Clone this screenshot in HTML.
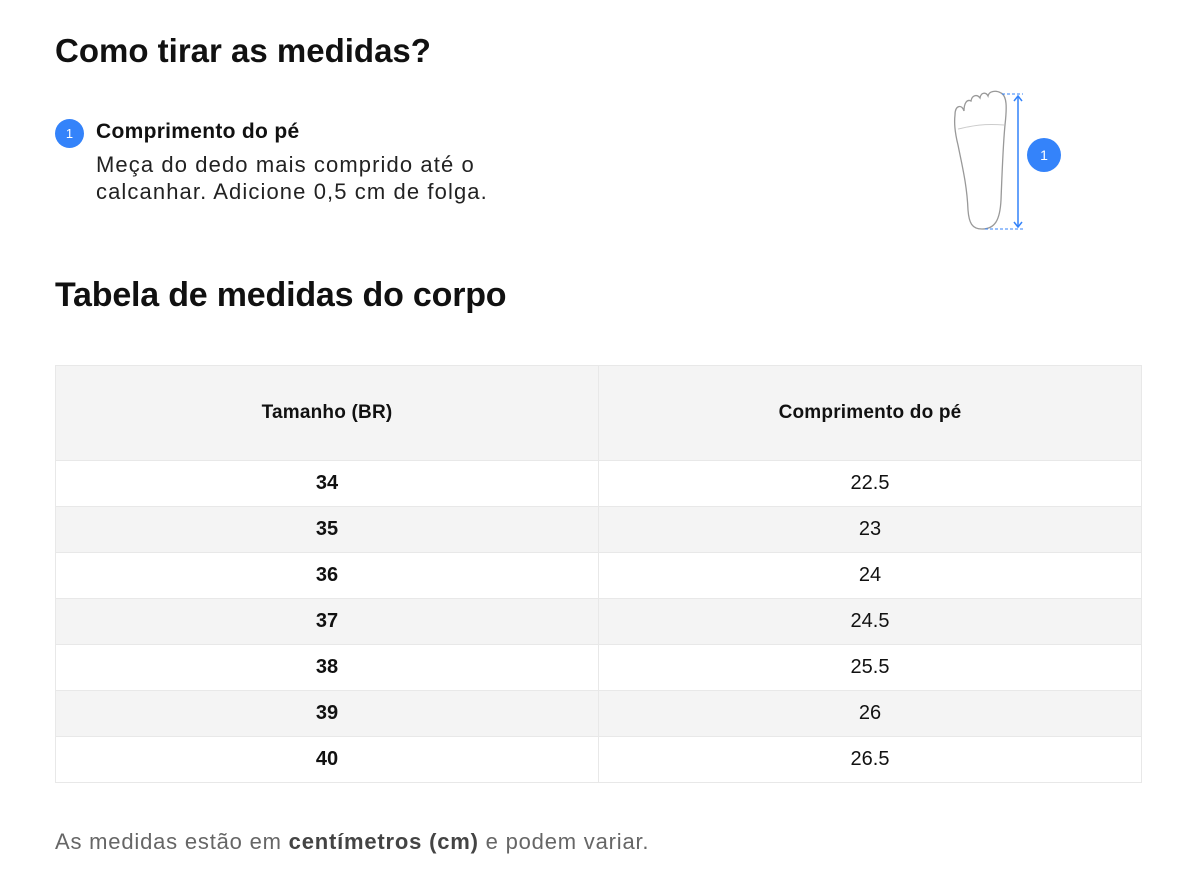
<!DOCTYPE html>
<html><head><style>
body{margin:0;width:1197px;height:895px;background:#fff;font-family:"Liberation Sans",sans-serif;color:#111;position:relative;overflow:hidden}
.a{position:absolute;white-space:nowrap}
table{position:absolute;left:55px;top:365px;width:1087px;border-collapse:collapse}
td{border:1px solid #e8e8e8;text-align:center;font-size:20px;height:45px;padding:0}
tr.h td{height:94px;background:#f4f4f4;font-weight:bold;font-size:19px;letter-spacing:0.2px}
tr.g td{background:#f4f4f4}
td.l{font-weight:bold;width:542px}
</style></head><body>
<div class="a" style="left:55px;top:32px;font-size:33px;font-weight:bold;letter-spacing:0px">Como tirar as medidas?</div>
<div class="a" style="left:55px;top:119px;width:29px;height:29px;border-radius:50%;background:#3483fa;color:#fff;font-size:13px;line-height:29px;text-align:center">1</div>
<div class="a" style="left:96px;top:120px;font-size:21px;font-weight:bold;letter-spacing:0.3px">Comprimento do pé</div>
<div class="a" style="left:96px;top:151px;font-size:22px;line-height:27px;color:#222;letter-spacing:1.1px">Meça do dedo mais comprido até o<br>calcanhar. Adicione 0,5 cm de folga.</div>
<svg class="a" style="left:940px;top:85px" width="130" height="155">
<path d="M42 144 C32 144 29 138 28 125 C27 100 22 80 18 60 C15 48 14 38 15 30 C15 20 22 19 24 26 C24 18 27 14 31 16 C32 10 37 9 40 13 C41 7 46 7 48 11 C49 6 56 5 61 8 C67 11 67 22 65 40 C63 60 62 90 61 115 C60 135 55 144 42 144Z" fill="none" stroke="#999" stroke-width="1.3"/>
<path d="M18 44 C28 42 40 38 64 40" fill="none" stroke="#ccc" stroke-width="1"/>
<line x1="62" y1="9" x2="83" y2="9" stroke="#3483fa" stroke-dasharray="3,2"/>
<line x1="45" y1="144" x2="83" y2="144" stroke="#3483fa" stroke-dasharray="3,2"/>
<line x1="78" y1="11" x2="78" y2="142" stroke="#3483fa" stroke-width="1.5"/>
<path d="M74 16 L78 11 L82 16 M74 137 L78 142 L82 137" fill="none" stroke="#3483fa" stroke-width="1.5"/>
<circle cx="104" cy="70" r="17" fill="#3483fa"/>
<text x="104" y="75" fill="#fff" font-size="14" text-anchor="middle" font-family="Liberation Sans">1</text>
</svg>
<div class="a" style="left:55px;top:276px;font-size:34px;font-weight:bold;letter-spacing:-0.2px">Tabela de medidas do corpo</div>
<table>
<tr class="h"><td class="l">Tamanho (BR)</td><td>Comprimento do pé</td></tr>
<tr><td class="l">34</td><td>22.5</td></tr>
<tr class="g"><td class="l">35</td><td>23</td></tr>
<tr><td class="l">36</td><td>24</td></tr>
<tr class="g"><td class="l">37</td><td>24.5</td></tr>
<tr><td class="l">38</td><td>25.5</td></tr>
<tr class="g"><td class="l">39</td><td>26</td></tr>
<tr><td class="l">40</td><td>26.5</td></tr>
</table>
<div class="a" style="left:55px;top:829px;font-size:22px;color:#666;letter-spacing:0.8px">As medidas estão em <b style="color:#444">centímetros (cm)</b> e podem variar.</div>
</body></html>
